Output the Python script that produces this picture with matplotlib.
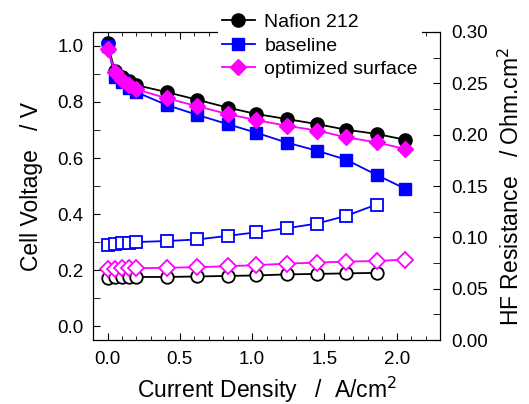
import numpy as np
import matplotlib.pyplot as plt
from matplotlib.ticker import MultipleLocator

plt.rcParams['font.family'] = ['Liberation Sans', 'DejaVu Sans']

# current density (A/cm2)
j = [0.0, 0.05, 0.10, 0.15, 0.20, 0.41, 0.62, 0.83, 1.03, 1.24, 1.45, 1.65, 1.86, 2.06]

# polarisation curves (V)
v_nafion = [1.01, 0.91, 0.89, 0.875, 0.86, 0.835, 0.808, 0.78, 0.757, 0.739, 0.721, 0.701, 0.686, 0.665]
v_baseline = [1.00, 0.89, 0.87, 0.85, 0.835, 0.789, 0.754, 0.721, 0.69, 0.655, 0.626, 0.594, 0.54, 0.49]
v_optim = [0.99, 0.908, 0.88, 0.86, 0.845, 0.813, 0.785, 0.757, 0.735, 0.715, 0.698, 0.674, 0.656, 0.632]

# HF resistance (Ohm.cm2)
r_nafion = [0.0605, 0.061, 0.061, 0.061, 0.0615, 0.0615, 0.062, 0.0625, 0.063, 0.064, 0.0645, 0.065, 0.0655]
r_baseline = [0.093, 0.094, 0.0945, 0.095, 0.0955, 0.0965, 0.098, 0.1015, 0.105, 0.109, 0.1135, 0.121, 0.132]
r_optim = [0.069, 0.0695, 0.07, 0.07, 0.07, 0.0705, 0.071, 0.072, 0.073, 0.0745, 0.0755, 0.0765, 0.077, 0.0785]

labels = ['Nafion 212', 'baseline', 'optimized surface']
colors = ['black', '#0000ff', '#ff00ff']
markers = ['o', 's', 'D']

fig = plt.figure(figsize=(5.29, 4.04), dpi=100)
ax = fig.add_axes([0.176, 0.158, 0.656, 0.763])
ax2 = ax.twinx()

ms = [9.5, 8.5, 8.5]
for v, r, lab, c, m, s in zip([v_nafion, v_baseline, v_optim], [r_nafion, r_baseline, r_optim],
                              labels, colors, markers, ms):
    ax.plot(j, v, color=c, marker=m, ms=s, lw=1.3, label=lab, zorder=3)
    ax2.plot(j[:len(r)], r, color=c, marker=m, ms=s - 0.5, lw=1.3, mfc='white', mec=c, mew=1.3)

ax.set_xlim(-0.1, 2.3)
ax.set_ylim(-0.05, 1.05)
ax2.set_ylim(0, 0.30)

ax.xaxis.set_major_locator(MultipleLocator(0.5))
ax.xaxis.set_minor_locator(MultipleLocator(0.1))
ax.yaxis.set_major_locator(MultipleLocator(0.2))
ax.yaxis.set_minor_locator(MultipleLocator(0.1))
ax2.yaxis.set_major_locator(MultipleLocator(0.05))
ax2.yaxis.set_minor_locator(MultipleLocator(0.025))

ax.tick_params(which='both', direction='in', top=True, labelsize=13.5)
ax.tick_params(axis='x', which='major', length=5, pad=8)
ax.tick_params(axis='x', which='minor', length=3)
ax.tick_params(axis='y', which='major', length=5, pad=7)
ax.tick_params(axis='y', which='minor', length=5)
ax2.tick_params(which='both', direction='in', length=5, labelsize=13.5, pad=8)
ax.yaxis.set_major_formatter(plt.FormatStrFormatter('%.1f'))
ax.xaxis.set_major_formatter(plt.FormatStrFormatter('%.1f'))
ax2.yaxis.set_major_formatter(plt.FormatStrFormatter('%.2f'))

ax.set_xlabel('Current Density   /  A/cm$^2$', fontsize=16.5, labelpad=5)
ax.set_ylabel('Cell Voltage   / V', fontsize=16.5, labelpad=10)
ax2.set_ylabel('HF Resistance   / Ohm.cm$^2$', fontsize=16.5, labelpad=8)

ax.set_zorder(ax2.get_zorder() + 1)
ax.patch.set_visible(False)

leg = fig.legend(loc='upper left', bbox_to_anchor=(0.393, 1.0), fontsize=14,
                 handlelength=1.7, handletextpad=0.5, labelspacing=0.3,
                 frameon=True, framealpha=1, edgecolor='none', borderpad=0.2)
leg.set_zorder(10)

fig.savefig('out.png', dpi=100)
